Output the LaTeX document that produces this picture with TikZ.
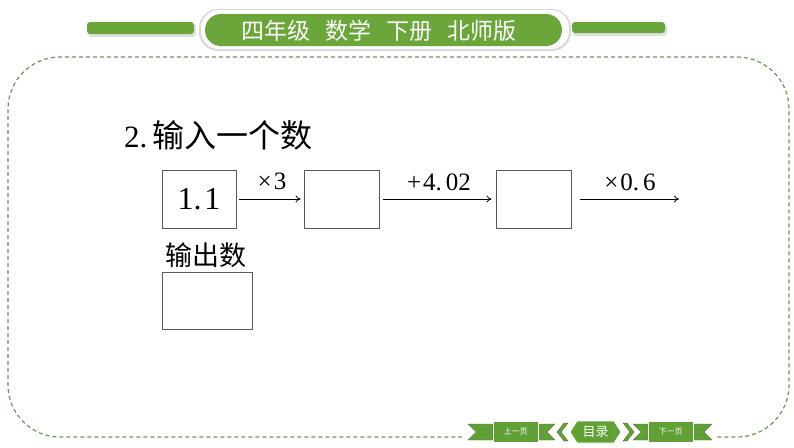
\documentclass[tikz,border=0pt]{standalone}
\usepackage{fontspec}
\setmainfont{Liberation Serif}
\newfontfamily\cjk{Noto Sans CJK SC}
\usetikzlibrary{arrows.meta}
\definecolor{hgreen}{RGB}{106,166,58}
\definecolor{ngreen}{RGB}{96,160,52}
\definecolor{dgreen}{RGB}{110,150,90}
\definecolor{boxgray}{RGB}{90,90,90}
\tikzset{
  numbox/.style={draw=boxgray, line width=0.9pt, inner sep=0pt},
  arr/.style={-{To[length=5pt,width=7pt]}, line width=0.8pt},
  lbl/.style={inner sep=0pt, font=\fontsize{25}{27}\selectfont},
  navtxt/.style={inner sep=0pt, text=white, font=\cjk\fontsize{8}{9}\selectfont},
  navshape/.style={fill=ngreen, draw=ngreen!70!black, line width=0.3pt},
}
\begin{document}
\begin{tikzpicture}[x=1pt,y=-1pt]
\useasboundingbox (0,0) rectangle (794,447);
\fill[white] (0,0) rectangle (794,447);

% dashed frame
\draw[dgreen, line width=1.2pt, dash pattern=on 4pt off 3pt, rounded corners=52pt]
  (8,57) rectangle (789,437);

% header bars
\fill[black!12, rounded corners=3pt] (88,24) rectangle (196,37);
\fill[hgreen, rounded corners=3pt] (87,22) rectangle (194,34);
\fill[black!12, rounded corners=3pt] (573,24) rectangle (667,36);
\fill[hgreen, rounded corners=3pt] (572,22) rectangle (665,33);
% header pill
\fill[black!15, rounded corners=19pt] (199,9) rectangle (571,51);
\fill[white, rounded corners=18pt] (201,10) rectangle (569,49);
\fill[hgreen, rounded corners=16pt] (205,14) rectangle (562,46);
\node[inner sep=0pt, text=white, font=\cjk\fontsize{23}{25}\selectfont] (hdr) at (379,31)
  {四年级\hspace{15pt}数学\hspace{15pt}下册\hspace{15pt}北师版};

% title
\node[anchor=base west, inner sep=0pt, font=\fontsize{31}{33}\selectfont] (title) at (124,147)
  {2.\hspace{5pt}{\cjk\fontsize{32}{34}\selectfont 输入一个数}};

% boxes
\node[numbox, minimum width=74pt, minimum height=58pt, font=\fontsize{32}{34}\selectfont] (b1) at (199,199) {1.\hspace{3pt}1};
\node[numbox, minimum width=75pt, minimum height=58pt] (b2) at (341.5,199) {};
\node[numbox, minimum width=75pt, minimum height=58pt] (b3) at (533.5,199) {};
\coordinate (end) at (679,199);

\draw[arr, shorten <=3pt, shorten >=3pt] (b1) -- (b2);
\draw[arr, shorten <=4pt, shorten >=4pt] (b2) -- (b3);
\draw[arr, shorten <=9pt] (b3.east) -- (end);

\node[lbl] (l1) at (272,181) {×\hspace{2pt}3};
\node[lbl] (l2) at (439,182) {+\hspace{2pt}4.\hspace{4pt}02};
\node[lbl] (l3) at (630,182) {×\hspace{2pt}0.\hspace{4pt}6};

% output
\node[anchor=base west, inner sep=0pt, font=\cjk\fontsize{27}{29}\selectfont] (outl) at (165,265) {输出数};
\node[numbox, minimum width=90pt, minimum height=57pt] (out) at (207,300.5) {};

% navigation
\fill[white] (462,418) rectangle (716,446);
\draw[navshape] (468,424) -- (493,424) -- (493,440) -- (468,440) -- (476,432) -- cycle;
\draw[navshape] (538,424) -- (555,424) -- (547,432) -- (555,440) -- (538,440) -- cycle;
\draw[fill=ngreen, draw=white, line width=0.8pt] (493,421) rectangle (538,442);
\node[navtxt] (prev) at (515.5,431.5) {上一页};
\draw[navshape] (568,423) -- (564,423) -- (557,432) -- (564,441) -- (568,441) -- (561,432) -- cycle;
\draw[fill=ngreen, draw=white, line width=0.8pt] (570,432) -- (577,421) -- (614,421) -- (621,432) -- (614,443) -- (577,443) -- cycle;
\node[inner sep=0pt, text=white, font=\cjk\fontsize{13}{14}\selectfont] (menu) at (595.5,432) {目录};
\draw[navshape] (623,423) -- (627,423) -- (634,432) -- (627,441) -- (623,441) -- (630,432) -- cycle;
\draw[navshape] (633,424) -- (648,424) -- (648,440) -- (633,440) -- (641,432) -- cycle;
\draw[navshape] (693,424) -- (712,424) -- (704,432) -- (712,440) -- (693,440) -- cycle;
\draw[fill=ngreen, draw=white, line width=0.8pt] (648,421) rectangle (693,442);
\node[navtxt] (next) at (670.5,431.5) {下一页};
\end{tikzpicture}
\end{document}
